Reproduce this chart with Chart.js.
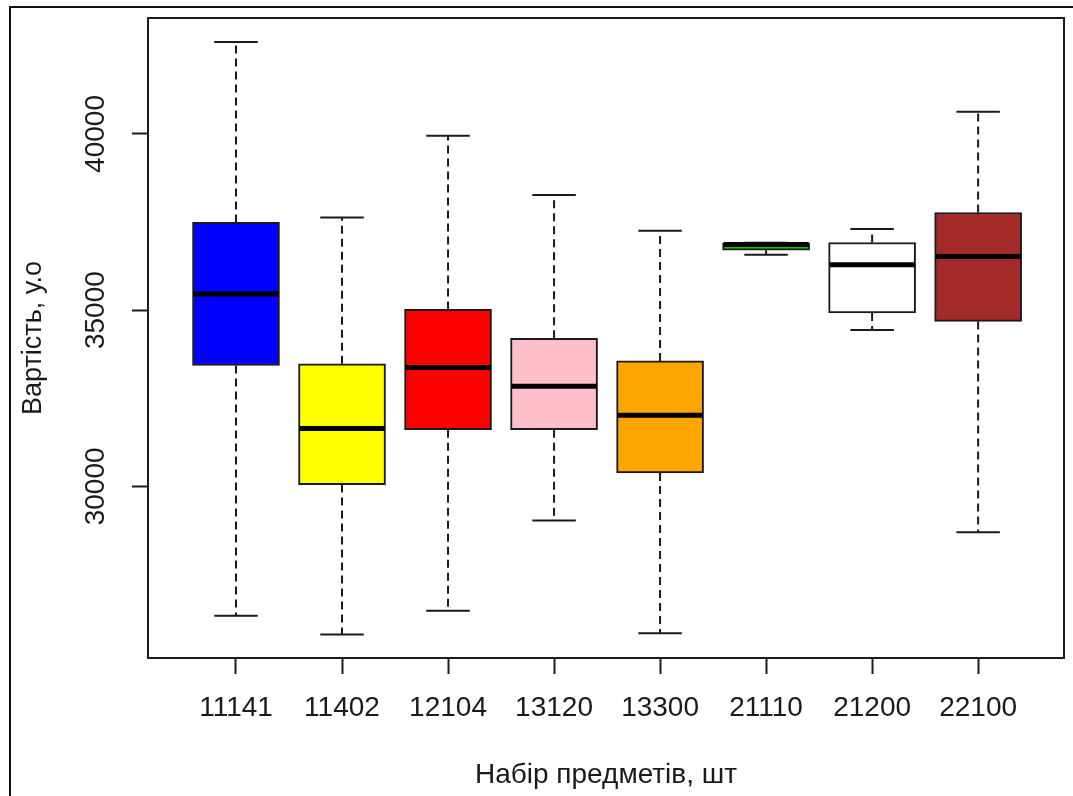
<!DOCTYPE html>
<html>
<head>
<meta charset="utf-8">
<script src="https://cdn.jsdelivr.net/npm/chart.js@4.4.0/dist/chart.umd.min.js"></script>
<style>
html, body { margin: 0; padding: 0; background: #fff; overflow: hidden; }
#wrap { position: relative; width: 1073px; height: 796px; }
#frame { position: absolute; left: 9px; top: 6px; right: 0; bottom: 0; border-top: 2px solid #111; border-left: 2px solid #111; }
canvas { position: absolute; left: 0; top: 0; }
</style>
</head>
<body>
<div id="wrap">
    <div id="frame"></div>
    <canvas id="boxChart" width="1073" height="796"></canvas>
</div>
<script>
// Box plot data
const categories = ['11141', '11402', '12104', '13120', '13300', '21110', '21200', '22100'];
const whiskerLow = [26330, 25800, 26470, 29030, 25830, 36570, 34440, 28700];
const q1 = [33430, 30050, 31610, 31610, 30380, 36700, 34920, 34680];
const median = [35460, 31640, 33370, 32840, 32020, 36860, 36290, 36520];
const q3 = [37490, 33480, 35020, 34200, 33560, 36910, 36920, 37770];
const whiskerHigh = [42610, 37630, 39950, 38270, 37250, 36910, 37300, 40630];
const boxColors = ['#0000ff', '#ffff00', '#ff0000', '#ffc0cb', '#ffa500', '#00cc00', '#ffffff', '#a52a2a'];
const yTickValues = [30000, 35000, 40000];

const ink = '#1a1a1a';
const boxWidth = 87;

Chart.defaults.font.family = '"Liberation Sans", Arial, sans-serif';
Chart.defaults.color = ink;

// Whiskers, caps, medians and the plot frame
const boxExtras = {
    id: 'boxExtras',
    afterDatasetsDraw(chart) {
        const { ctx, scales: { x, y } } = chart;
        const half = boxWidth / 2;
        const cap = boxWidth / 4;
        ctx.save();
        categories.forEach((c, i) => {
            const px = x.getPixelForValue(i + 1);
            // dashed whiskers
            ctx.strokeStyle = ink;
            ctx.lineWidth = 2;
            ctx.setLineDash([8, 5]);
            ctx.beginPath();
            ctx.moveTo(px, y.getPixelForValue(q3[i]));
            ctx.lineTo(px, y.getPixelForValue(whiskerHigh[i]));
            ctx.moveTo(px, y.getPixelForValue(q1[i]));
            ctx.lineTo(px, y.getPixelForValue(whiskerLow[i]));
            ctx.stroke();
            // caps
            ctx.setLineDash([]);
            ctx.beginPath();
            const hi = y.getPixelForValue(whiskerHigh[i]);
            const lo = y.getPixelForValue(whiskerLow[i]);
            ctx.moveTo(px - cap, hi); ctx.lineTo(px + cap, hi);
            ctx.moveTo(px - cap, lo); ctx.lineTo(px + cap, lo);
            ctx.stroke();
            // median
            ctx.strokeStyle = '#000';
            ctx.lineWidth = 5;
            const m = y.getPixelForValue(median[i]);
            ctx.beginPath();
            ctx.moveTo(px - half + 1, m);
            ctx.lineTo(px + half - 1, m);
            ctx.stroke();
        });
        const a = chart.chartArea;
        ctx.strokeStyle = ink;
        ctx.lineWidth = 2;
        ctx.strokeRect(a.left, a.top, a.right - a.left, a.bottom - a.top);
        ctx.restore();
    }
};

const ctx = document.getElementById('boxChart').getContext('2d');
new Chart(ctx, {
    type: 'bar',
    data: {
        datasets: [{
            data: categories.map((c, i) => ({ x: i + 1, y: [q1[i], q3[i]] })),
            backgroundColor: boxColors,
            borderColor: ink,
            borderWidth: 2,
            borderSkipped: false,
            barThickness: boxWidth
        }]
    },
    options: {
        responsive: false,
        animation: false,
        events: [],
        layout: { padding: { top: 18, right: 9, left: 0, bottom: 0 } },
        plugins: {
            legend: { display: false },
            tooltip: { enabled: false }
        },
        scales: {
            x: {
                type: 'linear',
                position: 'bottom',
                min: 0.17,
                max: 8.81,
                offset: false,
                afterBuildTicks: (scale) => {
                    scale.ticks = categories.map((c, i) => ({ value: i + 1 }));
                },
                afterFit: (scale) => { scale.height = 138; },
                ticks: {
                    autoSkip: false,
                    maxRotation: 0,
                    padding: 17,
                    font: { size: 28 },
                    callback: (v) => categories[v - 1]
                },
                grid: {
                    offset: false,
                    drawOnChartArea: false,
                    tickLength: 16,
                    tickWidth: 2,
                    tickColor: ink
                },
                border: { display: false },
                title: {
                    display: true,
                    text: 'Набір предметів, шт',
                    font: { size: 28 },
                    padding: { top: 0, bottom: 4 }
                }
            },
            y: {
                min: 25130,
                max: 43290,
                afterBuildTicks: (scale) => {
                    scale.ticks = yTickValues.map(v => ({ value: v }));
                },
                afterFit: (scale) => { scale.width = 148; },
                ticks: {
                    minRotation: 90,
                    maxRotation: 90,
                    crossAlign: 'center',
                    padding: -3,
                    font: { size: 28 },
                    callback: (v) => String(v)
                },
                grid: {
                    drawOnChartArea: false,
                    tickLength: 16,
                    tickWidth: 2,
                    tickColor: ink
                },
                border: { display: false },
                title: {
                    display: true,
                    text: 'Вартість, у.о',
                    font: { size: 27 },
                    padding: { top: 17, bottom: 0 }
                }
            }
        }
    },
    plugins: [boxExtras]
});
</script>
</body>
</html>
